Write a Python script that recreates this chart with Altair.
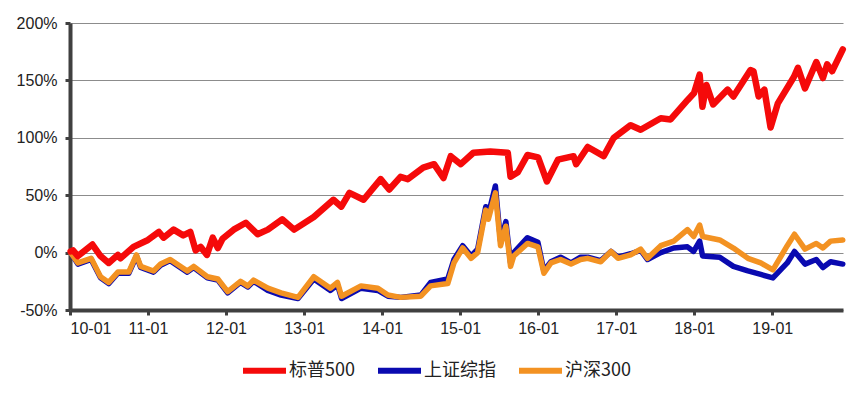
import altair as alt
import pandas as pd

SERIES = ["标普500", "上证综指", "沪深300"]
COLORS = ["#F50A0A", "#0A0AB0", "#F39222"]

sp_dates = ["2010-01-04", "2010-01-15", "2010-02-07", "2010-04-16", "2010-05-24", "2010-07-01",
            "2010-08-13", "2010-08-25", "2010-10-25", "2011-01-01", "2011-02-21", "2011-03-15",
            "2011-05-01", "2011-06-15", "2011-07-18", "2011-08-12", "2011-09-04", "2011-10-04",
            "2011-10-31", "2011-11-24", "2011-12-16", "2012-02-06", "2012-04-03", "2012-05-28",
            "2012-07-15", "2012-09-20", "2012-11-15", "2013-02-15", "2013-05-18", "2013-06-24",
            "2013-08-01", "2013-10-06", "2013-12-25", "2014-02-03", "2014-03-28", "2014-05-01",
            "2014-07-12", "2014-09-01", "2014-10-15", "2014-11-18", "2015-01-04", "2015-03-04",
            "2015-05-22", "2015-08-12", "2015-08-25", "2015-09-28", "2015-11-12", "2016-01-01",
            "2016-02-11", "2016-04-03", "2016-06-15", "2016-06-27", "2016-08-20", "2016-11-03",
            "2016-12-20", "2017-03-09", "2017-04-25", "2017-07-28", "2017-09-12", "2017-12-01",
            "2017-12-31", "2018-01-26", "2018-02-08", "2018-02-27", "2018-03-30", "2018-06-06",
            "2018-07-03", "2018-09-21", "2018-10-05", "2018-10-29", "2018-11-25", "2018-12-24",
            "2019-01-27", "2019-04-12", "2019-05-01", "2019-06-03", "2019-07-26", "2019-08-26",
            "2019-09-15", "2019-10-08", "2019-11-27"]
sp_vals = [1, 2, -3, 7, -3, -9,
           -2, -5, 5, 11, 18, 13,
           20, 15, 18, 2, 5, -2,
           13, 4, 12, 20, 26, 16,
           20, 29, 20, 31, 46, 40,
           52, 46, 64, 55, 66, 64,
           74, 77, 65, 84, 77, 87,
           88, 87, 66, 70, 85, 83,
           62, 81, 84, 77, 92, 84,
           100, 111, 107, 117, 116, 133,
           139, 155, 127, 146, 129, 142,
           136, 159, 158, 136, 142, 109,
           130, 153, 161, 143, 166, 152,
           164, 158, 177]

cn_dates = ["2010-01-04", "2010-02-07", "2010-04-10", "2010-05-24", "2010-07-01", "2010-08-13",
            "2010-10-03", "2010-11-08", "2010-11-28", "2011-01-27", "2011-03-01", "2011-04-15",
            "2011-07-04", "2011-08-03", "2011-10-06", "2011-11-24", "2012-01-09", "2012-03-09",
            "2012-04-12", "2012-05-09", "2012-07-15", "2012-09-15", "2012-12-03", "2013-02-15",
            "2013-05-04", "2013-06-06", "2013-06-25", "2013-09-24", "2013-12-12", "2014-01-28",
            "2014-03-28", "2014-07-01", "2014-08-16", "2014-11-04", "2014-12-03", "2015-01-13",
            "2015-02-21", "2015-03-24", "2015-05-01", "2015-05-13", "2015-06-15", "2015-07-09",
            "2015-08-03", "2015-08-25", "2015-09-09", "2015-11-12", "2015-12-31", "2016-01-28",
            "2016-03-01", "2016-04-15", "2016-06-03", "2016-07-18", "2016-08-20", "2016-10-20",
            "2016-12-07", "2017-01-09", "2017-03-09", "2017-04-25", "2017-05-27", "2017-07-28",
            "2017-09-27", "2017-11-30", "2017-12-29", "2018-01-26", "2018-02-09", "2018-04-30",
            "2018-07-03", "2018-09-09", "2018-11-08", "2019-01-04", "2019-03-12", "2019-04-15",
            "2019-06-03", "2019-07-26", "2019-08-26", "2019-10-01", "2019-11-27"]
sh_vals = [0, -10, -6, -22, -27, -18,
           -18, -3, -13, -17, -11, -7,
           -17, -13, -22, -24, -35, -26,
           -30, -25, -33, -37, -40, -23,
           -33, -28, -40, -31, -33, -38,
           -39, -37, -26, -23, -6, 6,
           -3, 3, 40, 33, 58, 10,
           27, -9, 0, 13, 9, -16,
           -8, -4, -9, -4, -4, -7,
           1, -4, -1, 2, -6, 0,
           4, 5, 1, 10, -3, -4,
           -12, -16, -19, -22, -9, 1,
           -10, -6, -13, -8, -10]
hs_vals = [0, -9, -5, -21, -26, -17,
           -17, -2, -12, -16, -10, -6,
           -16, -12, -21, -23, -34, -25,
           -29, -24, -31, -35, -39, -21,
           -31, -26, -38, -29, -31, -37,
           -39, -38, -29, -27, -9, 4,
           -5, 0, 37, 29, 52, 6,
           23, -12, -3, 8, 5, -18,
           -9, -6, -10, -6, -5, -8,
           1, -5, -2, 3, -5, 6,
           10, 20, 14, 24, 14, 11,
           4, -5, -9, -15, 6, 16,
           3, 8, 4, 10, 11]

rows = []
for d, v in zip(sp_dates, sp_vals):
    rows.append({"date": d, "value": v, "series": SERIES[0]})
for d, v in zip(cn_dates, sh_vals):
    rows.append({"date": d, "value": v, "series": SERIES[1]})
for d, v in zip(cn_dates, hs_vals):
    rows.append({"date": d, "value": v, "series": SERIES[2]})
df = pd.DataFrame(rows)

x_ticks = [alt.DateTime(year=y, month=1, date=1) for y in range(2010, 2020)]

color_scale = alt.Scale(domain=SERIES, range=COLORS)

def layer(name, width):
    return alt.Chart(df).transform_filter(alt.datum.series == name).mark_line(
        strokeWidth=width, strokeJoin="round", strokeCap="round"
    ).encode(
        x=alt.X("date:T",
                scale=alt.Scale(domain=[alt.DateTime(year=2010, month=1, date=1),
                                        alt.DateTime(year=2019, month=11, date=28)]),
                axis=alt.Axis(title=None, values=x_ticks, format="%y-%m", grid=False,
                              labelFontSize=16, labelPadding=5, tickSize=5)),
        y=alt.Y("value:Q", scale=alt.Scale(domain=[-50, 200], nice=False, zero=False),
                axis=alt.Axis(title=None, values=[-50, 0, 50, 100, 150, 200],
                              labelExpr="datum.value + '%'", grid=True,
                              labelFontSize=16, labelPadding=8, tickSize=5)),
        color=alt.Color("series:N", scale=color_scale,
                        legend=alt.Legend(title=None, orient="none", direction="horizontal",
                                          legendX=170, legendY=323,
                                          symbolType="stroke", symbolSize=1849,
                                          symbolStrokeWidth=6, labelFontSize=18,
                                          labelFont="Noto Sans CJK SC", labelColor="#222222",
                                          labelOffset=0, columnPadding=11)),
    )

chart = alt.layer(
    layer(SERIES[1], 5.5), layer(SERIES[2], 5.5), layer(SERIES[0], 6.5)
).properties(
    width=773, height=287,
    autosize=alt.AutoSizeParams(type="none"),
    padding={"left": 62, "top": 15, "right": 14, "bottom": 79},
).configure_view(stroke=None).configure_axis(
    domainColor="#404040", domainWidth=4, tickColor="#404040", tickWidth=3,
    gridColor="#8c8c8c", gridWidth=1, labelColor="#222222",
    labelFont="Liberation Sans",
)

chart.save("out.html", embed_options={"renderer": "svg", "actions": False})
